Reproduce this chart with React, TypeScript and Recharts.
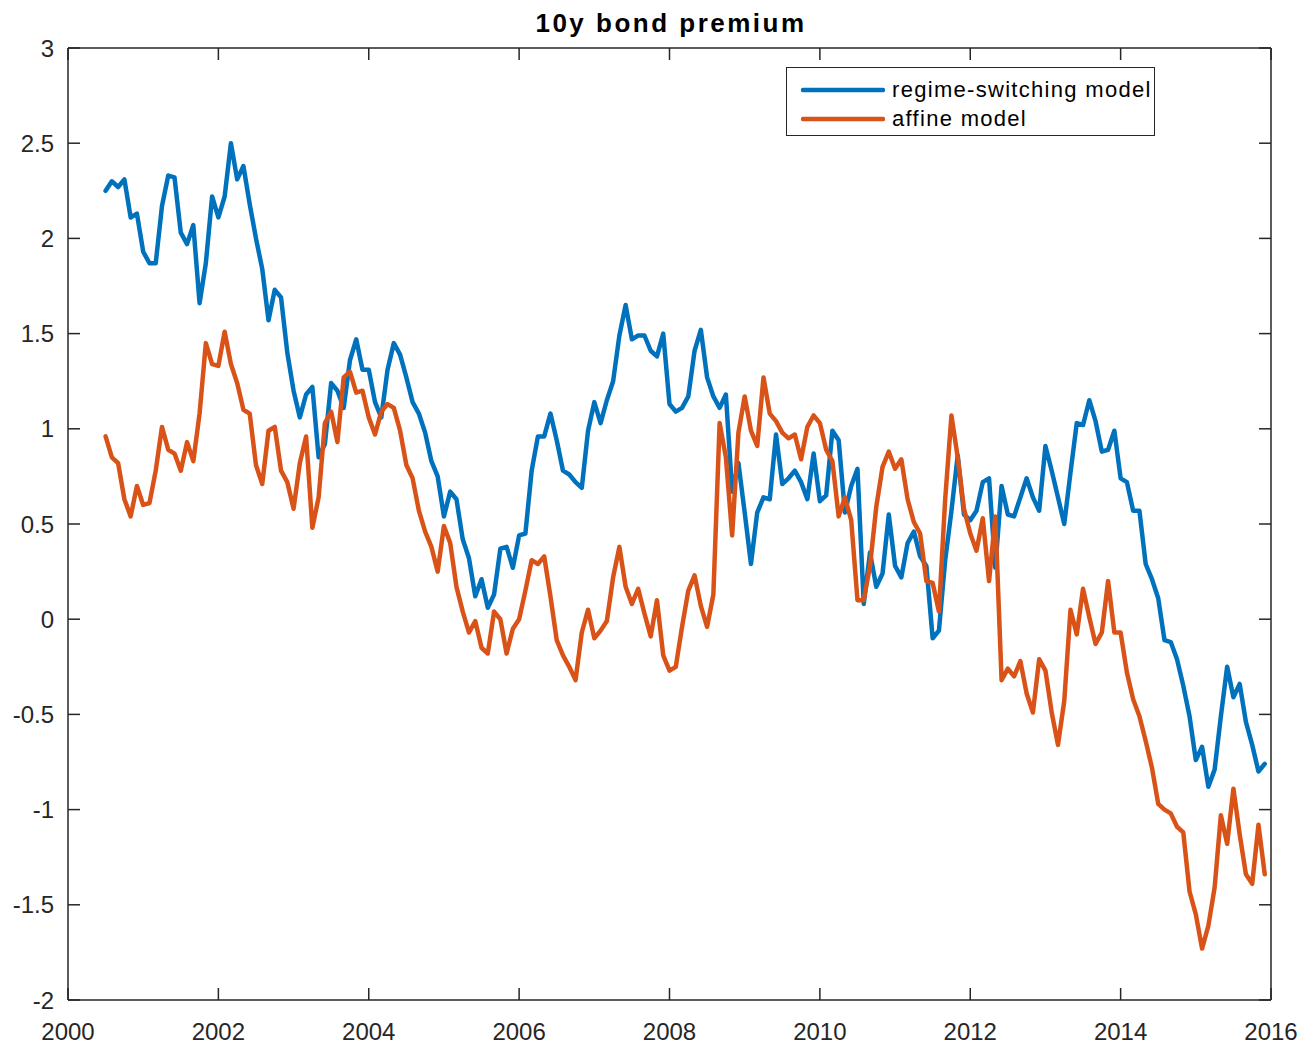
import React from 'react';
import { LineChart, Line, XAxis, YAxis, Legend } from 'recharts';

// monthly observations, first one is July 2000
const startYear = 2000;
const startMonth = 7;

const regimeSwitching = [
  2.25, 2.30, 2.27, 2.31, 2.11, 2.13, 1.93, 1.87, 1.87, 2.17, 2.33, 2.32,
  2.03, 1.97, 2.07, 1.66, 1.87, 2.22, 2.11, 2.22, 2.50, 2.31, 2.38, 2.18,
  2.00, 1.84, 1.57, 1.73, 1.69, 1.40, 1.20, 1.06, 1.18, 1.22, 0.85, 0.92,
  1.24, 1.20, 1.11, 1.36, 1.47, 1.31, 1.31, 1.14, 1.06, 1.31, 1.45, 1.39,
  1.27, 1.14, 1.08, 0.98, 0.83, 0.75, 0.54, 0.67, 0.63, 0.42, 0.32, 0.12,
  0.21, 0.06, 0.13, 0.37, 0.38, 0.27, 0.44, 0.45, 0.78, 0.96, 0.96, 1.08,
  0.94, 0.78, 0.76, 0.72, 0.69, 0.99, 1.14, 1.03, 1.15, 1.25, 1.49, 1.65,
  1.47, 1.49, 1.49, 1.41, 1.38, 1.50, 1.13, 1.09, 1.11, 1.17, 1.41, 1.52,
  1.27, 1.17, 1.11, 1.18, 0.67, 0.82, 0.56, 0.29, 0.56, 0.64, 0.63, 0.97,
  0.71, 0.74, 0.78, 0.72, 0.63, 0.87, 0.62, 0.65, 0.99, 0.94, 0.56, 0.70,
  0.79, 0.08, 0.35, 0.17, 0.24, 0.55, 0.28, 0.22, 0.40, 0.46, 0.33, 0.28,
  -0.10, -0.06, 0.31, 0.57, 0.86, 0.55, 0.52, 0.57, 0.72, 0.74, 0.27, 0.70,
  0.55, 0.54, 0.64, 0.74, 0.64, 0.57, 0.91, 0.78, 0.64, 0.50, 0.77, 1.03,
  1.02, 1.15, 1.04, 0.88, 0.89, 0.99, 0.74, 0.72, 0.57, 0.57, 0.29, 0.21,
  0.11, -0.11, -0.12, -0.21, -0.35, -0.51, -0.74, -0.67, -0.88, -0.79, -0.51, -0.25,
  -0.41, -0.34, -0.54, -0.66, -0.80, -0.76,
];

const affine = [
  0.96, 0.85, 0.82, 0.63, 0.54, 0.70, 0.60, 0.61, 0.78, 1.01, 0.89, 0.87,
  0.78, 0.93, 0.83, 1.08, 1.45, 1.34, 1.33, 1.51, 1.34, 1.24, 1.10, 1.08,
  0.81, 0.71, 0.99, 1.01, 0.78, 0.72, 0.58, 0.82, 0.96, 0.48, 0.64, 1.03,
  1.09, 0.93, 1.27, 1.30, 1.19, 1.20, 1.06, 0.97, 1.09, 1.13, 1.11, 0.99,
  0.81, 0.74, 0.57, 0.46, 0.38, 0.25, 0.49, 0.40, 0.17, 0.04, -0.07, -0.01,
  -0.15, -0.18, 0.04, 0.00, -0.18, -0.05, 0.00, 0.15, 0.31, 0.29, 0.33, 0.12,
  -0.11, -0.19, -0.25, -0.32, -0.07, 0.05, -0.10, -0.06, -0.01, 0.22, 0.38, 0.17,
  0.08, 0.16, 0.03, -0.09, 0.10, -0.19, -0.27, -0.25, -0.04, 0.15, 0.23, 0.07,
  -0.04, 0.13, 1.03, 0.85, 0.44, 0.98, 1.17, 0.99, 0.91, 1.27, 1.08, 1.04,
  0.98, 0.95, 0.97, 0.84, 1.01, 1.07, 1.03, 0.89, 0.83, 0.54, 0.64, 0.52,
  0.10, 0.10, 0.28, 0.59, 0.80, 0.88, 0.79, 0.84, 0.63, 0.51, 0.45, 0.20,
  0.19, 0.04, 0.63, 1.07, 0.85, 0.58, 0.45, 0.36, 0.53, 0.20, 0.54, -0.32,
  -0.26, -0.30, -0.22, -0.39, -0.49, -0.21, -0.27, -0.49, -0.66, -0.43, 0.05, -0.08,
  0.16, 0.01, -0.13, -0.07, 0.20, -0.07, -0.07, -0.28, -0.42, -0.51, -0.64, -0.78,
  -0.97, -1.00, -1.02, -1.09, -1.12, -1.43, -1.55, -1.73, -1.61, -1.41, -1.03, -1.18,
  -0.89, -1.13, -1.34, -1.39, -1.08, -1.34,
];

const yearTicks = [2000, 2002, 2004, 2006, 2008, 2010, 2012, 2014, 2016];
const valueTicks = [-2, -1.5, -1, -0.5, 0, 0.5, 1, 1.5, 2, 2.5, 3];

const series = [
  { key: 'rs', name: 'regime-switching model', color: '#0072BD' },
  { key: 'af', name: 'affine model', color: '#D95319' },
];

const data = regimeSwitching.map((v, i) => ({
  t: startYear + (startMonth - 1 + i) / 12,
  rs: v,
  af: affine[i],
}));

const FONT = '"Liberation Sans", Arial, sans-serif';
const INK = '#262626';
const tickStyle = { fill: INK, fontSize: 24, fontFamily: FONT };
const frame = { stroke: INK, strokeWidth: 1.5 };

const LegendBox = () => (
  <div
    style={{
      width: 369,
      height: 69,
      border: `1.5px solid ${INK}`,
      background: '#fff',
      fontFamily: FONT,
      fontSize: 22,
      letterSpacing: 1.3,
      color: '#000',
      boxSizing: 'border-box',
      position: 'relative',
    }}
  >
    {series.map((s, i) => (
      <div key={s.key} style={{ position: 'absolute', left: 14, top: 9 + i * 29, height: 26, display: 'flex', alignItems: 'center' }}>
        <svg width={84} height={10} style={{ marginRight: 7 }}>
          <line x1={2} y1={5} x2={82} y2={5} stroke={s.color} strokeWidth={4.5} strokeLinecap="round" />
        </svg>
        <span style={{ lineHeight: '26px' }}>{s.name}</span>
      </div>
    ))}
  </div>
);

const App: React.FC = () => {
  return (
    <div style={{ position: 'relative', width: 1316, height: 1049, background: '#fff' }}>
      <style>{'body{margin:0}'}</style>
      <div
        style={{
          position: 'absolute',
          top: 10,
          left: 0,
          width: 1342,
          textAlign: 'center',
          fontFamily: FONT,
          fontWeight: 'bold',
          fontSize: 26,
          lineHeight: '26px',
          letterSpacing: 2.5,
          color: '#000',
        }}
      >
        10y bond premium
      </div>
      {/* top and right axes are 1px wide: Recharts skips axes of size 0 */}
      <LineChart width={1316} height={1049} data={data} margin={{ top: 47, right: 44, bottom: 8, left: 8 }}>
        <XAxis
          dataKey="t"
          type="number"
          domain={[2000, 2016]}
          ticks={yearTicks}
          allowDataOverflow
          height={41}
          tickSize={-12}
          tickMargin={35}
          tick={tickStyle}
          axisLine={frame}
          tickLine={frame}
        />
        <XAxis
          xAxisId="top"
          orientation="top"
          dataKey="t"
          type="number"
          domain={[2000, 2016]}
          ticks={yearTicks}
          allowDataOverflow
          height={1}
          tickSize={-12}
          tickFormatter={() => ''}
          axisLine={frame}
          tickLine={frame}
        />
        <YAxis
          type="number"
          domain={[-2, 3]}
          ticks={valueTicks}
          allowDataOverflow
          width={60}
          tickSize={-12}
          tickMargin={26}
          tick={tickStyle}
          axisLine={frame}
          tickLine={frame}
        />
        <YAxis
          yAxisId="right"
          orientation="right"
          type="number"
          domain={[-2, 3]}
          ticks={valueTicks}
          allowDataOverflow
          width={1}
          tickSize={-12}
          tickFormatter={() => ''}
          axisLine={frame}
          tickLine={frame}
        />
        <Legend
          layout="vertical"
          align="center"
          verticalAlign="middle"
          wrapperStyle={{ top: 67, left: 786, width: 369, height: 69 }}
          content={() => <LegendBox />}
        />
        {/* invisible copy so the top and right frame axes have a series */}
        <Line
          xAxisId="top"
          yAxisId="right"
          dataKey="rs"
          stroke="none"
          dot={false}
          activeDot={false}
          legendType="none"
          isAnimationActive={false}
        />
        {series.map((s) => (
          <Line
            key={s.key}
            dataKey={s.key}
            name={s.name}
            stroke={s.color}
            strokeWidth={4.5}
            strokeLinejoin="round"
            strokeLinecap="round"
            dot={false}
            activeDot={false}
            isAnimationActive={false}
          />
        ))}
      </LineChart>
    </div>
  );
};

export default App;
